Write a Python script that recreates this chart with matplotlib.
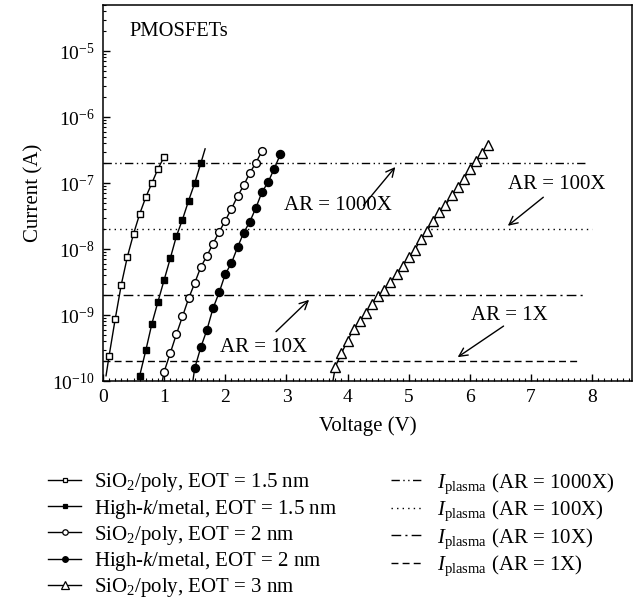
import matplotlib
matplotlib.use("Agg")
import matplotlib.pyplot as plt
from matplotlib.lines import Line2D
from matplotlib.ticker import LogLocator, MultipleLocator, NullFormatter, LogFormatterSciNotation

plt.rcParams["font.family"] = ["Liberation Serif", "DejaVu Serif"]
plt.rcParams["mathtext.fontset"] = "custom"
plt.rcParams["mathtext.rm"] = "Liberation Serif"
plt.rcParams["mathtext.it"] = "Liberation Serif:italic"
plt.rcParams["mathtext.bf"] = "Liberation Serif:bold"

# ---- breakdown I-V curves (gate voltage in V, current in A) ----
v_sio2_15 = [0.1, 0.2, 0.3, 0.4, 0.5, 0.6, 0.7, 0.8, 0.9, 1.0]
i_sio2_15 = [2.4e-10, 8.7e-10, 2.9e-9, 7.7e-9, 1.7e-8, 3.4e-8, 6.1e-8, 1.0e-7, 1.65e-7, 2.5e-7]

v_hk_15 = [0.6, 0.7, 0.8, 0.9, 1.0, 1.1, 1.2, 1.3, 1.4, 1.5, 1.6]
i_hk_15 = [1.2e-10, 2.9e-10, 7.4e-10, 1.6e-9, 3.4e-9, 7.2e-9, 1.56e-8, 2.8e-8, 5.4e-8, 1.0e-7, 2.0e-7]

v_sio2_2 = [1.0, 1.1, 1.2, 1.3, 1.4, 1.5, 1.6, 1.7, 1.8, 1.9, 2.0, 2.1, 2.2, 2.3, 2.4, 2.5, 2.6]
i_sio2_2 = [1.38e-10, 2.64e-10, 5.1e-10, 9.5e-10, 1.78e-9, 3.05e-9, 5.35e-9, 7.9e-9, 1.21e-8,
            1.82e-8, 2.7e-8, 4.06e-8, 6.3e-8, 9.2e-8, 1.42e-7, 2.03e-7, 3.05e-7]

v_hk_2 = [1.5, 1.6, 1.7, 1.8, 1.9, 2.0, 2.1, 2.2, 2.3, 2.4, 2.5, 2.6, 2.7, 2.8, 2.9]
i_hk_2 = [1.56e-10, 3.25e-10, 5.96e-10, 1.27e-9, 2.2e-9, 4.18e-9, 6.1e-9, 1.06e-8, 1.76e-8,
          2.58e-8, 4.2e-8, 7.3e-8, 1.03e-7, 1.65e-7, 2.72e-7]

v_sio2_3 = [3.8, 3.9, 4.0, 4.1, 4.2, 4.3, 4.4, 4.5, 4.6, 4.7, 4.8, 4.9, 5.0, 5.1, 5.2, 5.3, 5.4,
            5.5, 5.6, 5.7, 5.8, 5.9, 6.0, 6.1, 6.2, 6.3]
i_sio2_3 = [1.65e-10, 2.64e-10, 4.1e-10, 6.1e-10, 8.2e-10, 1.07e-9, 1.47e-9, 1.91e-9, 2.36e-9,
            3.16e-9, 4.2e-9, 5.6e-9, 7.5e-9, 9.8e-9, 1.42e-8, 1.9e-8, 2.64e-8, 3.6e-8, 4.6e-8,
            6.5e-8, 8.7e-8, 1.17e-7, 1.61e-7, 2.13e-7, 2.88e-7, 3.72e-7]

# end points of the guide lines that run past the measured points
v_guide_ends = [(0.05, 0.1), (1.6, 1.67), (0.97, 1.0), (1.47, 1.5), (3.76, 3.8)]
i_guide_ends = [(1.2e-10, 2.4e-10), (2.0e-7, 3.3e-7), (1.0e-10, 1.38e-10),
                (1.0e-10, 1.56e-10), (1.0e-10, 1.65e-10)]

series_labels = [
    r"SiO$_2$/poly, EOT = 1.5 nm",
    r"High-$k$/metal, EOT = 1.5 nm",
    r"SiO$_2$/poly, EOT = 2 nm",
    r"High-$k$/metal, EOT = 2 nm",
    r"SiO$_2$/poly, EOT = 3 nm",
]

# ---- plasma-induced currents for each antenna ratio ----
ar_labels = ["1000X", "100X", "10X", "1X"]
plasma_current = [2e-7, 2e-8, 2e-9, 2e-10]
plasma_v_start = [0.0, 0.0, 0.0, 0.0]
plasma_v_end = [7.9, 8.0, 7.9, 7.8]

fig = plt.figure(figsize=(6.38, 6.0), dpi=100)
ax = fig.add_axes([0.1614, 0.365, 0.8292, 0.6267])

series = [(v_sio2_15, i_sio2_15), (v_hk_15, i_hk_15), (v_sio2_2, i_sio2_2),
          (v_hk_2, i_hk_2), (v_sio2_3, i_sio2_3)]
marker_styles = [("s", "white", 5.0), ("s", "black", 5.0), ("o", "white", 5.6),
                 ("o", "black", 5.8), ("^", "white", 7.6)]

handles = []
for (v, i), (m, fc, ms), lab, gv, gi in zip(series, marker_styles, series_labels,
                                            v_guide_ends, i_guide_ends):
    ax.plot(gv, gi, color="black", lw=1.0, zorder=2)
    ax.plot(v, i, color="black", lw=1.0, marker=m, markerfacecolor=fc,
            markeredgecolor="black", markeredgewidth=1.0, markersize=ms, zorder=3)
    handles.append(Line2D([], [], color="black", lw=1.0, marker=m, markerfacecolor=fc,
                          markeredgecolor="black", markeredgewidth=0.9,
                          markersize=ms * 0.7, label=lab))

line_styles = [(0, (6, 2.5, 1, 2.5, 1, 2.5)), (0, (1, 3)), (0, (7, 3, 1.5, 3)), (0, (5, 3))]
for cur, lab, ls, v0, v1 in zip(plasma_current, ar_labels, line_styles,
                                plasma_v_start, plasma_v_end):
    ax.plot([v0, v1], [cur, cur], color="black", lw=1.0, linestyle=ls, zorder=1)
    handles.append(Line2D([], [], color="black", lw=1.0, linestyle=ls,
                          label=r"$I_{\mathrm{plasma}}$ (AR = " + lab + ")"))

ax.set_yscale("log")
ax.set_xlim(0, 8.65)
ax.set_ylim(1e-10, 5e-5)

ax.xaxis.set_major_locator(MultipleLocator(1))
ax.xaxis.set_minor_locator(MultipleLocator(0.1))
ax.yaxis.set_major_locator(LogLocator(base=10, numticks=20))
ax.yaxis.set_minor_locator(LogLocator(base=10, subs=range(2, 10), numticks=20))
ax.yaxis.set_major_formatter(LogFormatterSciNotation())
ax.yaxis.set_minor_formatter(NullFormatter())

ax.tick_params(which="both", direction="in", top=False, right=False, labelsize=14)
ax.tick_params(which="major", length=5, width=1.0, pad=6)
ax.tick_params(which="minor", length=2.5, width=0.8)
for sp in ax.spines.values():
    sp.set_linewidth(1.1)

ax.set_xlabel("Voltage (V)", fontsize=15, labelpad=7)
ax.set_ylabel("Current (A)", fontsize=15, labelpad=6)

ax.text(0.44, 2.0e-5, "PMOSFETs", fontsize=14.8, va="center", ha="left")

# antenna-ratio callouts: (text position, arrow tail, arrow head)
callouts = [
    ("AR = 1000X", (3.85, 4.5e-8), (4.26, 4.6e-8), (4.78, 1.75e-7)),
    ("AR = 100X", (7.42, 9.5e-8), (7.20, 6.1e-8), (6.62, 2.25e-8)),
    ("AR = 10X", (2.63, 3.2e-10), (2.83, 5.6e-10), (3.37, 1.7e-9)),
    ("AR = 1X", (6.65, 9.7e-10), (6.55, 6.8e-10), (5.80, 2.3e-10)),
]
for txt, tpos, tail, head in callouts:
    ax.text(tpos[0], tpos[1], txt, fontsize=15, ha="center", va="center")
    ax.annotate("", xy=head, xytext=tail,
                arrowprops=dict(arrowstyle="->", lw=1.0, color="black",
                                shrinkA=0, shrinkB=0, mutation_scale=15))

fig.legend(handles=handles, ncol=2, loc="upper left", bbox_to_anchor=(0.075, 0.215),
           frameon=False, fontsize=15, handlelength=1.6, handletextpad=0.6,
           columnspacing=2.6, labelspacing=0.15, borderaxespad=0, borderpad=0)

fig.savefig("out.png", dpi=100)
